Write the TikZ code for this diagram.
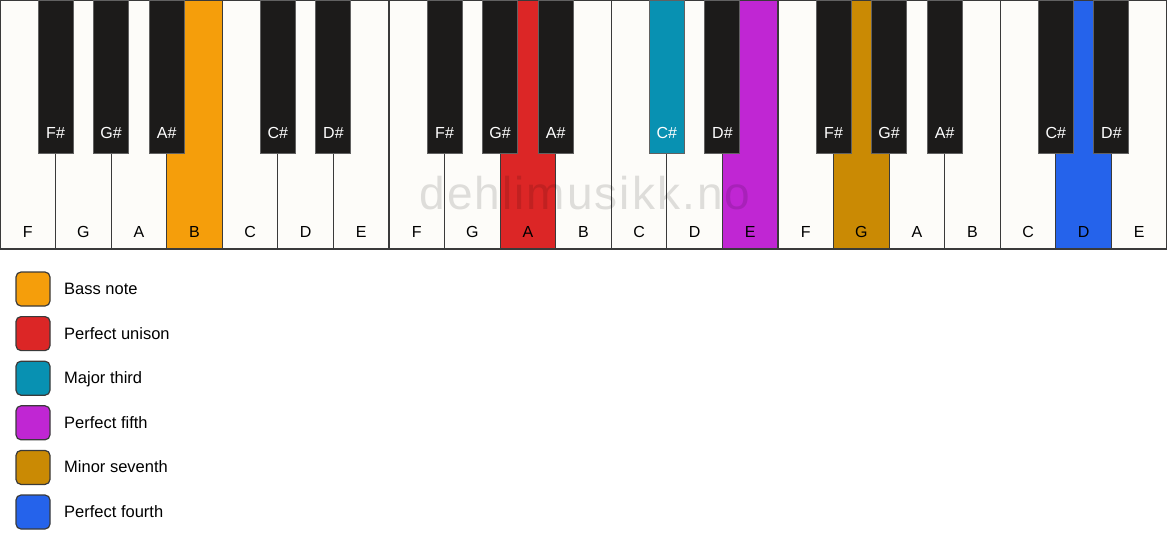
\documentclass[tikz,border=0pt]{standalone}
\usepackage{fontspec}
\setmainfont{Liberation Sans}
\usetikzlibrary{positioning}
\definecolor{keywhite}{HTML}{FDFCF9}
\definecolor{keyblack}{HTML}{1C1B1A}
\definecolor{keyedge}{HTML}{3A3A3A}
\definecolor{bassnote}{HTML}{F59E0B}
\definecolor{unison}{HTML}{DC2626}
\definecolor{third}{HTML}{0891B2}
\definecolor{fifth}{HTML}{C026D3}
\definecolor{seventh}{HTML}{CA8A04}
\definecolor{fourth}{HTML}{2563EB}
\tikzset{
    whitekey/.style={
        draw=keyedge, line width=1.2pt, fill=keywhite,
        minimum width=55.571pt, minimum height=249pt,
        anchor=north west, inner sep=0pt, outer sep=0pt
    },
    blackkey/.style={
        draw=keyedge!80, line width=1pt, fill=keyblack,
        minimum width=35pt, minimum height=153pt,
        anchor=north, inner sep=0pt, outer sep=0pt
    },
    keylabel/.style={font=\fontsize{16}{19}\selectfont, anchor=base, inner sep=0pt},
    swatch/.style={
        draw=keyedge, line width=1.2pt, rounded corners=5pt,
        minimum size=34pt, inner sep=0pt
    },
    legendtext/.style={
        font=\fontsize{16.5}{19}\selectfont, inner sep=0pt,
        text height=11pt, text depth=0pt
    },
    watermark/.style={
        font=\fontsize{46}{56}\selectfont\addfontfeature{LetterSpace=4.5},
        anchor=base, text=black, text opacity=0.12
    }
}
\newcommand{\keyw}{55.571}

\begin{document}
\begin{tikzpicture}[x=1pt, y=-1pt]
    \useasboundingbox (0,0) rectangle (1167,550);

    % White keys
    \foreach \name [count=\i from 0] in {F,G,A,B,C,D,E,F,G,A,B,C,D,E,F,G,A,B,C,D,E} {
        \node[whitekey] (w\i) at (\i*\keyw,0) {};
    }
    % Highlighted white keys
    \foreach \i/\col in {3/bassnote,9/unison,13/fifth,15/seventh,19/fourth} {
        \node[whitekey, fill=\col] (h\i) at (\i*\keyw,0) {};
    }
    \foreach \name [count=\i from 0] in {F,G,A,B,C,D,E,F,G,A,B,C,D,E,F,G,A,B,C,D,E} {
        \node[keylabel] (wl\i) at (\i*\keyw+0.5*\keyw,237) {\name};
    }

    % Watermark
    \node[watermark] (mark) at (585,209) {dehlimusikk.no};

    % Black keys, centred on the boundaries
    \foreach \k/\name in {1/F\#,2/G\#,3/A\#,5/C\#,6/D\#,8/F\#,9/G\#,10/A\#,12/C\#,13/D\#,15/F\#,16/G\#,17/A\#,19/C\#,20/D\#} {
        \node[blackkey] (b\k) at (\k*\keyw,0) {};
        \node[keylabel, text=white] (bl\k) at (\k*\keyw,138.5) {\name};
    }
    % Major third on C#
    \node[blackkey, fill=third] (b12) at (12*\keyw,0) {};
    \node[keylabel, text=white] (bl12) at (12*\keyw,138.5) {C\#};

    % Legend
    \foreach \col/\txt [count=\j from 0] in {bassnote/Bass note,unison/Perfect unison,third/Major third,fifth/Perfect fifth,seventh/Minor seventh,fourth/Perfect fourth} {
        \node[swatch, fill=\col] (sw\j) at (33,289+\j*44.6) {};
        \node[legendtext, right=13.4pt of sw\j] (lt\j) {\txt};
    }

\end{tikzpicture}
\end{document}
